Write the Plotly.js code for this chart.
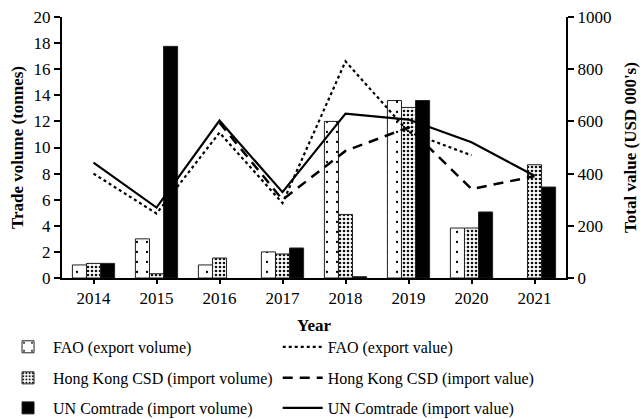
<!DOCTYPE html>
<html><head><meta charset="utf-8">
<script src="https://cdn.plot.ly/plotly-3.0.1.min.js"></script>
<style>html,body{margin:0;padding:0;background:#fff}#chart{width:643px;height:419px}</style>
</head><body><div id="chart"></div>
<script>
const years = ['2014', '2015', '2016', '2017', '2018', '2019', '2020', '2021'];
const faoVolume = [1.0, 3.0, 1.0, 2.0, 12.0, 13.6, 3.83, null];
const hkVolume = [1.12, 0.33, 1.53, 1.84, 4.87, 13.07, 3.83, 8.68];
const unVolume = [1.12, 17.75, null, 2.3, 0.1, 13.6, 5.06, 6.97];
const faoValue = [400, 247, 557, 287, 830, 560, 470, null];
const hkValue = [null, null, 595, 300, 487, 577, 341, 390];
const unValue = [442, 270, 603, 329, 630, 607, 520, 392];

const FONT = '"Liberation Serif", "Times New Roman", serif';
const barLine = {color: '#222', width: 1};

const traces = [
  {type: 'bar', name: 'FAO (export volume)', x: years, y: faoVolume, yaxis: 'y', legend: 'legend',
   marker: {color: '#fff', line: barLine, pattern: {shape: '.', fgcolor: '#000', bgcolor: '#fff', size: 10, solidity: 0.04}}},
  {type: 'scatter', mode: 'lines', name: 'FAO (export value)', x: years, y: faoValue, yaxis: 'y2', legend: 'legend2',
   line: {color: '#000', width: 2.2, dash: 'dot'}},
  {type: 'bar', name: 'Hong Kong CSD (import volume)', x: years, y: hkVolume, yaxis: 'y', legend: 'legend3',
   marker: {color: '#fff', line: barLine, pattern: {shape: '.', fgcolor: '#111', bgcolor: '#fff', size: 4, solidity: 0.35}}},
  {type: 'scatter', mode: 'lines', name: 'Hong Kong CSD (import value)', x: years, y: hkValue, yaxis: 'y2', legend: 'legend4',
   line: {color: '#000', width: 2.5, dash: '10px,7px'}},
  {type: 'bar', name: 'UN Comtrade (import volume)', x: years, y: unVolume, yaxis: 'y', legend: 'legend5',
   marker: {color: '#000', line: barLine}},
  {type: 'scatter', mode: 'lines', name: 'UN Comtrade (import value)', x: years, y: unValue, yaxis: 'y2', legend: 'legend6',
   line: {color: '#000', width: 2.2}}
];

function leg(x, y) {
  return {orientation: 'h', x: x, xanchor: 'left', y: y, yanchor: 'middle', itemwidth: 40,
    font: {family: FONT, size: 16, color: '#000'},
    bgcolor: 'rgba(0,0,0,0)', borderwidth: 0, traceorder: 'normal'};
}

const axisCommon = {showline: true, linecolor: '#000', linewidth: 2, ticks: 'outside', ticklen: 6, tickwidth: 2,
  tickcolor: '#000', showgrid: false, zeroline: false, tickfont: {family: FONT, size: 17, color: '#000'}};

const col1 = -0.117, col2 = 0.428;
const row1 = -0.264, row2 = -0.383, row3 = -0.498;

const layout = {
  width: 643, height: 419,
  margin: {l: 62, r: 77, t: 17, b: 141, autoexpand: false},
  paper_bgcolor: '#fff', plot_bgcolor: '#fff',
  font: {family: FONT, color: '#000'},
  barmode: 'group', bargap: 0.33, bargroupgap: 0,
  showlegend: true,
  xaxis: Object.assign({}, axisCommon, {type: 'category', range: [-0.5, 7.5], ticklen: 4,
    title: {text: '<b>Year</b>', font: {family: FONT, size: 17, color: '#000'}, standoff: 12}}),
  yaxis: Object.assign({}, axisCommon, {side: 'left', range: [0, 20], dtick: 2,
    title: {text: '<b>Trade volume (tonnes)</b>', font: {family: FONT, size: 17, color: '#000'}, standoff: 6}}),
  yaxis2: Object.assign({}, axisCommon, {side: 'right', overlaying: 'y', range: [0, 1000], dtick: 200,
    title: {text: "<b>Total value (USD 000's)</b>", font: {family: FONT, size: 17, color: '#000'}, standoff: 14}}),
  legend: leg(col1, row1),
  legend2: leg(col2, row1),
  legend3: leg(col1, row2),
  legend4: leg(col2, row2),
  legend5: leg(col1, row3),
  legend6: leg(col2, row3)
};

Plotly.newPlot('chart', traces, layout, {displayModeBar: false, staticPlot: true});
</script>
</body></html>
